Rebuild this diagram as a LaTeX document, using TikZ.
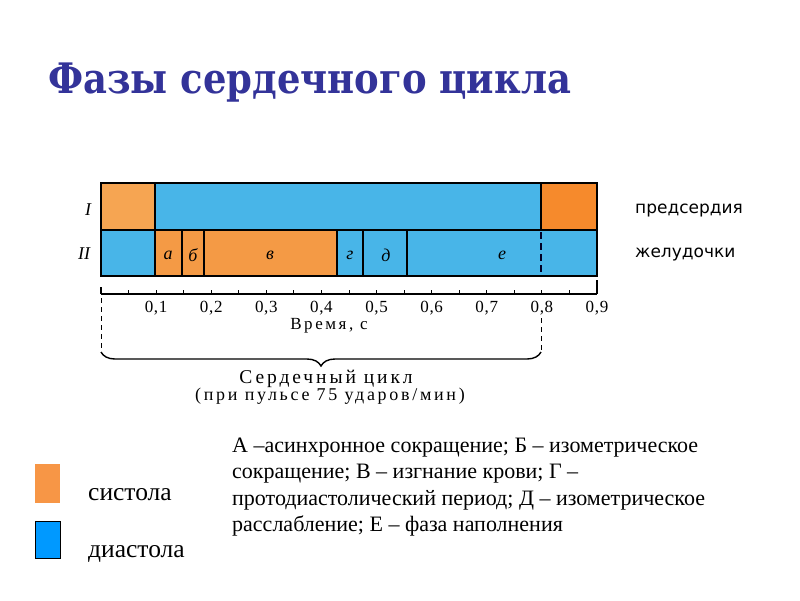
\documentclass[tikz,border=0pt]{standalone}
\usepackage{fontspec}
\setmainfont{Liberation Serif}
\newfontfamily\titlefont[FakeStretch=0.88]{DejaVu Serif}
\newfontfamily\labsans{DejaVu Sans}
\newfontfamily\spacedfont[LetterSpace=15]{Liberation Serif}
\newfontfamily\numfont[LetterSpace=4]{Liberation Serif}
\usetikzlibrary{decorations.pathreplacing}
\definecolor{chblue}{HTML}{48B5E8}
\definecolor{orL}{HTML}{F6A552}
\definecolor{orD}{HTML}{F68A2C}
\definecolor{orM}{HTML}{F49A45}
\definecolor{legor}{HTML}{F79646}
\definecolor{legbl}{HTML}{0099FF}
\definecolor{titlecol}{HTML}{333399}
\begin{document}
\begin{tikzpicture}[x=1pt,y=-1pt,
  seg/.style={draw=black,line width=1.8pt},
  txt/.style={inner sep=0pt},
  chartlab/.style={inner sep=0pt,font=\itshape\fontsize{18}{20}\selectfont},
  axisnum/.style={inner sep=0pt,font=\spacedfont\fontsize{17}{19}\selectfont},
  ticknum/.style={inner sep=0pt,font=\numfont\fontsize{17}{19}\selectfont},
  desc/.style={inner sep=0pt,anchor=base west,font=\fontsize{22}{26}\selectfont},
  legtxt/.style={inner sep=0pt,anchor=base west,font=\fontsize{25.5}{28}\selectfont},
  rowname/.style={inner sep=0pt,anchor=base west,font=\labsans\fontsize{17}{20}\selectfont}]
\useasboundingbox (0,0) rectangle (800,600);
% title
\node[txt,anchor=base west,text=titlecol,font=\titlefont\bfseries\fontsize{42}{48}\selectfont] (title) at (48,93) {Фазы сердечного цикла};
% row I
\draw[seg,fill=orL] (101,183) rectangle (155,230);
\draw[seg,fill=chblue] (155,183) rectangle (541,230);
\draw[seg,fill=orD] (541,183) rectangle (597,230);
% row II
\draw[seg,fill=chblue] (101,230) rectangle (155,276);
\draw[seg,fill=orM] (155,230) rectangle (182,276);
\draw[seg,fill=orM] (182,230) rectangle (204,276);
\draw[seg,fill=orM] (204,230) rectangle (337,276);
\draw[seg,fill=chblue] (337,230) rectangle (363,276);
\draw[seg,fill=chblue] (363,230) rectangle (407,276);
\draw[seg,fill=chblue] (407,230) rectangle (597,276);
\draw[line width=1.8pt,dash pattern=on 7pt off 4pt,draw=black!85!blue] (541,232) -- (541,275);
% labels
\node[chartlab] (rI) at (88,210) {I};
\node[chartlab] (rII) at (84,254) {II};
\node[chartlab] (la) at (168,255) {а};
\node[chartlab] (lb) at (193,255) {б};
\node[chartlab] (lv) at (270,255) {в};
\node[chartlab] (lg) at (350,255) {г};
\node[chartlab] (ld) at (386,255) {д};
\node[chartlab] (le) at (502,255) {е};
% axis
\draw[line width=1.3pt] (101,294) -- (597,294);
\foreach \k in {1,...,17} \draw[line width=1pt] (101+\k*27.556,294) -- ++(0,-4);
\draw[line width=1.3pt] (101,287) -- (101,294);
\draw[line width=1.3pt] (597,280) -- (597,294);
\foreach \k in {1,...,9} \node[ticknum] (n\k) at (101+2*\k*27.556,308) {0,\k};
\node[axisnum] (time) at (329,326) {Время, с};
% brace
\draw[line width=1pt,dash pattern=on 5pt off 4pt] (101,298) -- (101,352);
\draw[line width=1pt,dash pattern=on 5pt off 4pt] (541,318) -- (541,352);
\draw[line width=1.4pt,decorate,decoration={brace,mirror,amplitude=14pt}] (101,352) -- (541,352);
\node[axisnum,font=\spacedfont\fontsize{19.5}{21}\selectfont] (cyc) at (326,379) {Сердечный цикл};
\node[axisnum,font=\spacedfont\fontsize{18}{20}\selectfont] (pulse) at (330,396) {(при пульсе 75 ударов/мин)};
% right labels
\node[rowname] (pred) at (635,213) {предсердия};
\node[rowname] (zhel) at (635,257) {желудочки};
% description
\node[desc] (d1) at (232,452) {А –асинхронное сокращение; Б – изометрическое};
\node[desc] (d2) at (232,478) {сокращение; В – изгнание крови; Г –};
\node[desc] (d3) at (232,505) {протодиастолический период; Д – изометрическое};
\node[desc] (d4) at (232,531) {расслабление; Е – фаза наполнения};
% legend
\fill[legor] (35,464) rectangle (60,503);
\draw[fill=legbl,line width=1pt] (35,521) rectangle (60,558);
\node[legtxt] (sys) at (88,500) {систола};
\node[legtxt] (dia) at (88,557) {диастола};
\end{tikzpicture}
\end{document}
